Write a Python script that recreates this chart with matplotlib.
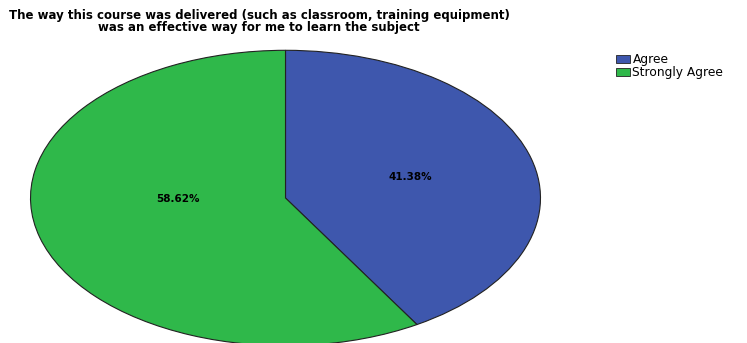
import numpy as np
import matplotlib.pyplot as plt
from matplotlib.patches import Patch

#%% Datos
categorias = ['Agree', 'Strongly Agree']
porcentajes = [41.38, 58.62]
colores = ['#3e57ad', '#2fb84a']
titulo = ('The way this course was delivered (such as classroom, training equipment)\n'
          'was an effective way for me to learn the subject')

plt.rcParams['font.family'] = ['DejaVu Sans']

#%% Figura
fig = plt.figure(figsize=(7.47, 3.43), dpi=100)
W, H = 747, 343
ax = fig.add_axes([30 / W, -3 / H, 511 / W, 296 / H])

wedges, textos, autotextos = ax.pie(porcentajes, colors=colores, startangle=90,
                                    counterclock=False, autopct='%.2f%%',
                                    pctdistance=0.54,
                                    wedgeprops=dict(edgecolor='#222222', linewidth=0.8),
                                    textprops=dict(fontsize=7.5, fontweight='bold'))
ax.set_aspect('auto')
ax.set_xlim(-1.002, 1.002)
ax.set_ylim(-1.002, 1.002)
for w in wedges:
    w.set_clip_on(False)

# posicion de las etiquetas de porcentaje
autotextos[0].set_position((0.49, 0.14))
autotextos[1].set_position((-0.42, -0.01))

fig.text(259 / W, 1 - 21.5 / H, titulo, ha='center', va='center',
         fontsize=8.5, fontweight='bold', linespacing=0.95)

handles = [Patch(facecolor=c, edgecolor='#222222', linewidth=0.6) for c in colores]
fig.legend(handles, categorias, loc='upper left', bbox_to_anchor=(616 / W, 1 - 53 / H),
           frameon=False, prop=dict(size=8.8),
           handlelength=1.15, handleheight=0.68, borderaxespad=0,
           handletextpad=0.2, labelspacing=0.0, borderpad=0)

fig.savefig('out.png', dpi=100)
